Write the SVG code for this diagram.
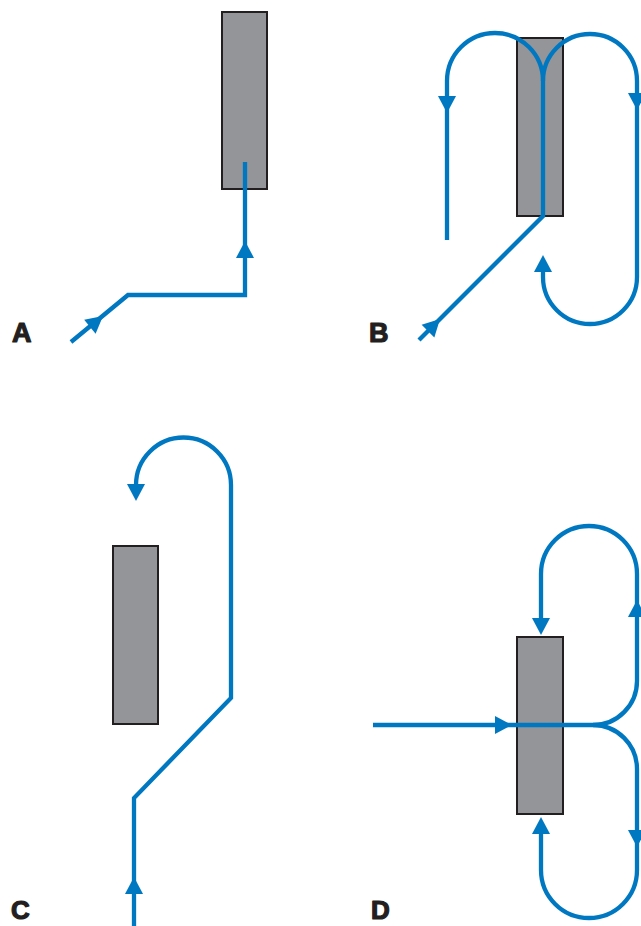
<svg xmlns="http://www.w3.org/2000/svg" xmlns:xlink="http://www.w3.org/1999/xlink" width="641" height="926" viewBox="0 0 641 926">
<style>
.blk{fill:#939598;stroke:#231f20;stroke-width:2}
.ln{fill:none;stroke:#0078c1;stroke-width:4.3;stroke-linejoin:miter}
.ah{fill:#0078c1}
.lbl{font-family:"Liberation Sans",Arial,sans-serif;font-weight:bold;font-size:27px;fill:#231f20;stroke:#231f20;stroke-width:1.2;stroke-linejoin:round}
.lbl2{font-size:26px}
</style>
<defs>
<path id="ah" d="M0,0 L9,17 L-9,17 Z"/>
</defs>
<rect width="641" height="926" fill="#ffffff"/>
<g id="nodeA"><rect class="blk" x="222" y="12" width="45" height="177"/></g>
<g id="nodeB"><rect class="blk" x="517" y="38" width="46" height="178"/></g>
<g id="nodeC"><rect class="blk" x="113" y="546" width="45" height="178"/></g>
<g id="nodeD"><rect class="blk" x="517" y="637" width="46" height="177"/></g>
<g id="connectors">
<path class="ln" d="M71,342 L128,295 L245,295 L245,162"/>
<path class="ln" d="M419,340 L543,216 L543,81"/>
<path class="ln" d="M543,81 A48,48 0 0 0 447,81 L447,240"/>
<path class="ln" d="M543,81 A47,47 0 0 1 637,81 L637,277 A47,47 0 0 1 543,277 L543,270"/>
<path class="ln" d="M134,926 L134,798 L231,698 L231,485 A47.5,47.5 0 0 0 136,485 L136,490"/>
<path class="ln" d="M373,725 L593,725"/>
<path class="ln" d="M593,725 A44,44 0 0 0 637,681 L637,574 A48,48 0 0 0 541,574 L541,620"/>
<path class="ln" d="M593,725 A44,44 0 0 1 637,769 L637,870 A48,48 0 0 1 541,870 L541,830"/>
<g class="ah">
<use xlink:href="#ah" transform="translate(245,241)"/>
<use xlink:href="#ah" transform="translate(103,316) rotate(50.5)"/>
<use xlink:href="#ah" transform="translate(440,319) rotate(45)"/>
<use xlink:href="#ah" transform="translate(447,113) rotate(180)"/>
<use xlink:href="#ah" transform="translate(637,110) rotate(180)"/>
<use xlink:href="#ah" transform="translate(543,255)"/>
<use xlink:href="#ah" transform="translate(134,877)"/>
<use xlink:href="#ah" transform="translate(136,501) rotate(180)"/>
<use xlink:href="#ah" transform="translate(512,725) rotate(90)"/>
<use xlink:href="#ah" transform="translate(541,635) rotate(180)"/>
<use xlink:href="#ah" transform="translate(541,817)"/>
<use xlink:href="#ah" transform="translate(637,600)"/>
<use xlink:href="#ah" transform="translate(637,847) rotate(180)"/>
</g>
</g>
<g id="labels">
<text class="lbl" x="12" y="342">A</text>
<text class="lbl" x="369" y="342">B</text>
<text class="lbl lbl2" x="11" y="919">C</text>
<text class="lbl lbl2" x="371" y="919">D</text>
</g>
</svg>
